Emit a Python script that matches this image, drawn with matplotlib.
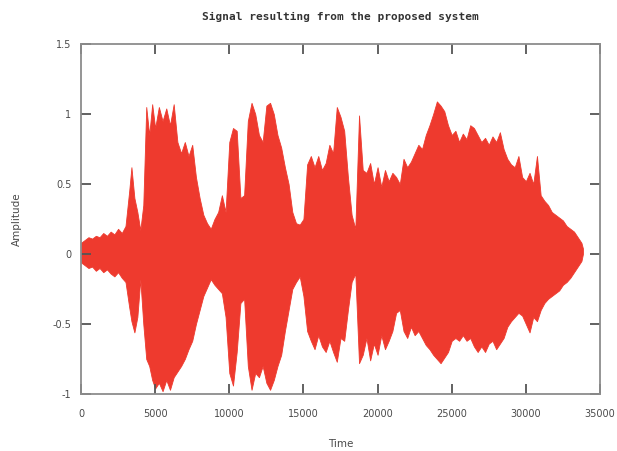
import matplotlib
matplotlib.use("Agg")
import matplotlib.pyplot as plt

# Sample index of each envelope reading
time = [0, 250, 500, 750, 1000, 1250, 1500, 1750, 2000, 2250, 2500, 2750, 3000,
        3250, 3400, 3600, 3800, 4000, 4200, 4400, 4600, 4800, 5000, 5250, 5500,
        5750, 6000, 6250, 6500, 6750, 7000, 7250, 7500, 7750, 8000, 8250, 8500,
        8750, 9000, 9250, 9500, 9750, 10000, 10250, 10500, 10750, 11000, 11250,
        11500, 11750, 12000, 12250, 12500, 12750, 13000, 13250, 13500, 13750,
        14000, 14250, 14500, 14750, 15000, 15250, 15500, 15750, 16000, 16250,
        16500, 16750, 17000, 17250, 17500, 17750, 18000, 18250, 18500, 18750,
        19000, 19250, 19500, 19750, 20000, 20250, 20500, 20750, 21000, 21250,
        21500, 21750, 22000, 22250, 22500, 22750, 23000, 23250, 23500, 23750,
        24000, 24250, 24500, 24750, 25000, 25250, 25500, 25750, 26000, 26250,
        26500, 26750, 27000, 27250, 27500, 27750, 28000, 28250, 28500, 28750,
        29000, 29250, 29500, 29750, 30000, 30250, 30500, 30750, 31000, 31250,
        31500, 31750, 32000, 32250, 32500, 32750, 33000, 33250, 33500, 33750,
        33850]

# Positive peak amplitude around each sample index
upper = [0.08, 0.10, 0.12, 0.11, 0.13, 0.12, 0.15, 0.13, 0.16, 0.14, 0.18, 0.15, 0.20,
         0.45, 0.62, 0.40, 0.30, 0.17, 0.35, 1.05, 0.85, 1.07, 0.90, 1.05, 0.95,
         1.04, 0.92, 1.07, 0.80, 0.72, 0.80, 0.70, 0.78, 0.55, 0.40, 0.28, 0.22,
         0.18, 0.25, 0.30, 0.42, 0.30, 0.80, 0.90, 0.88, 0.40, 0.42, 0.95,
         1.08, 1.00, 0.85, 0.80, 1.06, 1.08, 1.00, 0.85, 0.76, 0.62,
         0.50, 0.30, 0.22, 0.21, 0.25, 0.64, 0.70, 0.62, 0.70, 0.60,
         0.65, 0.78, 0.72, 1.05, 0.98, 0.88, 0.55, 0.28, 0.18, 0.99,
         0.60, 0.58, 0.65, 0.50, 0.62, 0.48, 0.60, 0.52, 0.58, 0.55,
         0.50, 0.68, 0.62, 0.66, 0.72, 0.78, 0.75, 0.85, 0.92, 1.00,
         1.09, 1.06, 1.02, 0.92, 0.85, 0.88, 0.80, 0.86, 0.82, 0.92,
         0.90, 0.85, 0.80, 0.83, 0.78, 0.84, 0.80, 0.87, 0.75, 0.68,
         0.64, 0.62, 0.70, 0.55, 0.52, 0.58, 0.50, 0.70, 0.42, 0.38,
         0.35, 0.30, 0.28, 0.26, 0.24, 0.20, 0.18, 0.16, 0.12, 0.08,
         0.04]

# Negative peak amplitude around each sample index
lower = [-0.06, -0.08, -0.10, -0.09, -0.12, -0.10, -0.13, -0.11, -0.14, -0.16, -0.13, -0.17, -0.20,
         -0.38, -0.48, -0.56, -0.45, -0.18, -0.50, -0.75, -0.80, -0.90, -0.96, -0.92, -0.98,
         -0.90, -0.97, -0.88, -0.84, -0.80, -0.75, -0.68, -0.62, -0.50, -0.40, -0.30, -0.24,
         -0.18, -0.22, -0.25, -0.28, -0.45, -0.85, -0.94, -0.70, -0.35, -0.32, -0.80,
         -0.97, -0.85, -0.88, -0.80, -0.92, -0.97, -0.90, -0.80, -0.72, -0.55,
         -0.40, -0.25, -0.20, -0.16, -0.30, -0.55, -0.62, -0.68, -0.58, -0.66,
         -0.70, -0.62, -0.70, -0.77, -0.60, -0.62, -0.40, -0.20, -0.14, -0.78,
         -0.72, -0.60, -0.76, -0.64, -0.72, -0.58, -0.68, -0.62, -0.55, -0.42,
         -0.40, -0.55, -0.60, -0.52, -0.58, -0.55, -0.60, -0.65, -0.68, -0.72,
         -0.75, -0.78, -0.74, -0.70, -0.62, -0.60, -0.62, -0.58, -0.62, -0.60,
         -0.66, -0.70, -0.66, -0.70, -0.64, -0.62, -0.68, -0.64, -0.60, -0.52,
         -0.48, -0.45, -0.42, -0.44, -0.50, -0.56, -0.45, -0.48, -0.40, -0.35,
         -0.32, -0.30, -0.28, -0.26, -0.22, -0.20, -0.17, -0.13, -0.09, -0.05,
         0.00]

x_ticks = [0, 5000, 10000, 15000, 20000, 25000, 30000, 35000]
x_tick_labels = ["0", "5000", "10000", "15000", "20000", "25000", "30000", "35000"]
y_ticks = [-1, -0.5, 0, 0.5, 1, 1.5]
y_tick_labels = ["-1", "-0.5", "0", "0.5", "1", "1.5"]

signal_color = "#ee3a2e"
frame_color = "#8c8c8c"
text_color = "#4a4a4a"

fig = plt.figure(figsize=(6.17, 4.51), dpi=100)
ax = fig.add_axes([0.1313, 0.1264, 0.8411, 0.776])

ax.fill_between(time, lower, upper, color=signal_color, linewidth=0.6,
                edgecolor=signal_color)

ax.set_xlim(0, 35000)
ax.set_ylim(-1, 1.5)

ax.set_xticks(x_ticks)
ax.set_xticklabels(x_tick_labels)
ax.set_yticks(y_ticks)
ax.set_yticklabels(y_tick_labels)

ax.tick_params(axis="both", direction="in", length=7, width=1.3,
               color="#555555", labelsize=7, labelcolor=text_color,
               top=True, right=True)
ax.tick_params(axis="x", pad=11)
ax.tick_params(axis="y", pad=7)

for spine in ax.spines.values():
    spine.set_color(frame_color)
    spine.set_linewidth(1.3)

ax.set_xlabel("Time", fontsize=7.5, color=text_color, labelpad=14)
ax.set_ylabel("Amplitude", fontsize=7.5, color=text_color, labelpad=22)
ax.set_title("Signal resulting from the proposed system",
             fontsize=8, fontweight="bold", family="DejaVu Sans Mono",
             color="#333333", pad=17)

fig.savefig("out.png", dpi=100)
